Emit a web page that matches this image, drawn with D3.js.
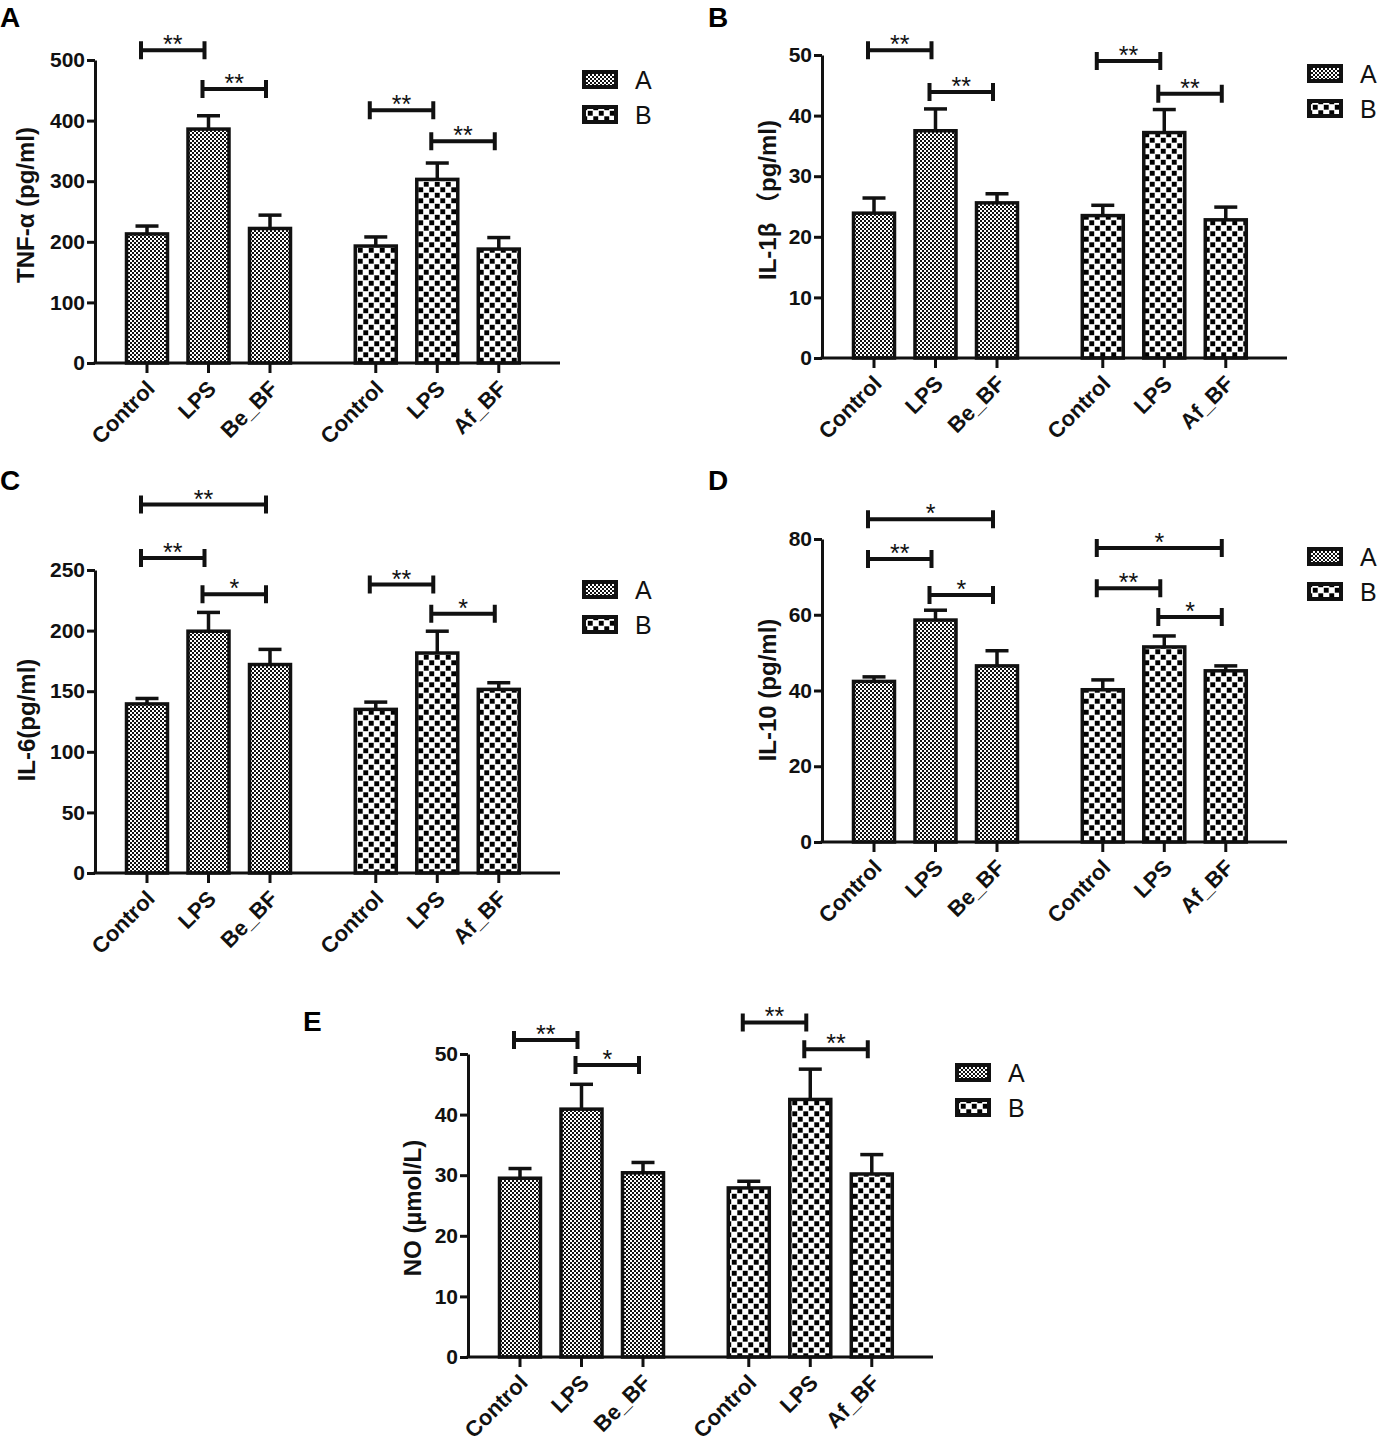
<!DOCTYPE html>
<html>
<head>
<meta charset="utf-8">
<style>
  body { margin: 0; background: #fff; }
  svg { display: block; background: #fff; }
  .num { font-family: "Liberation Sans Narrow", "Arial Narrow", Arial, sans-serif; font-weight: bold; font-size: 21px; }
  .cat { font-family: "Liberation Sans", Arial, sans-serif; font-weight: bold; font-size: 22px; }
  .ttl { font-family: "Liberation Sans", Arial, "Noto Sans CJK SC", sans-serif; font-weight: bold; font-size: 24px; }
  .star { font-family: "Liberation Sans", Arial, sans-serif; font-size: 25px; }
  .leg { font-family: "Liberation Sans", Arial, sans-serif; font-size: 25px; }
  .letter { font-family: "Liberation Sans", Arial, sans-serif; font-weight: bold; font-size: 28px; }
</style>
</head>
<body>
<script src="https://d3js.org/d3.v7.min.js"></script>
<script>
// categories and series
const categories = ["Control", "LPS", "Be_BF", "Control", "LPS", "Af_BF"];
const seriesNames = ["A", "B"];
const barSeries = [0, 0, 0, 1, 1, 1];

// A: TNF-α
const tnfMean = [213, 386, 222, 193, 303, 188];
const tnfSem = [13, 22, 22, 15, 27, 19];
const tnfTicks = [0, 100, 200, 300, 400, 500];
const tnfSig = [[0, 1, 516, "**"], [1, 2, 452, "**"], [3, 4, 417, "**"], [4, 5, 366, "**"]];

// B: IL-1β
const il1Mean = [23.9, 37.5, 25.6, 23.5, 37.2, 22.8];
const il1Sem = [2.5, 3.6, 1.5, 1.7, 3.8, 2.1];
const il1Ticks = [0, 10, 20, 30, 40, 50];
const il1Sig = [[0, 1, 50.8, "**"], [1, 2, 43.9, "**"], [3, 4, 49.0, "**"], [4, 5, 43.6, "**"]];

// C: IL-6
const il6Mean = [139.5, 199.5, 172, 135, 181.5, 151.5];
const il6Sem = [4.5, 15.5, 12.5, 6, 18, 5.5];
const il6Ticks = [0, 50, 100, 150, 200, 250];
const il6Sig = [[0, 2, 304, "**"], [0, 1, 260, "**"], [1, 2, 230, "*"], [3, 4, 238, "**"], [4, 5, 214, "*"]];

// D: IL-10
const il10Mean = [42.4, 58.6, 46.5, 40.2, 51.5, 45.2];
const il10Sem = [1.2, 2.6, 4.0, 2.6, 2.9, 1.3];
const il10Ticks = [0, 20, 40, 60, 80];
const il10Sig = [[0, 2, 85.2, "*"], [0, 1, 74.7, "**"], [1, 2, 65.2, "*"], [3, 5, 77.6, "*"], [3, 4, 67.0, "**"], [4, 5, 59.4, "*"]];

// E: NO
const noMean = [29.5, 40.9, 30.4, 27.9, 42.5, 30.2];
const noSem = [1.6, 4.1, 1.7, 1.1, 5.0, 3.2];
const noTicks = [0, 10, 20, 30, 40, 50];
const noSig = [[0, 1, 52.3, "**"], [1, 2, 48.2, "*"], [3, 4, 55.2, "**"], [4, 5, 50.8, "**"]];

const W = 1380, H = 1444;
const plotH = 303, axisLen = 465, barW = 41, slot = 61.5, groupGap = 0.72;

const panels = [
  { letter: "A", lx: 0, ly: 27, left: 95, bottom: 363, title: "TNF-α  (pg/ml)", tx: 34, ty: 205,
    legX: 582, legY: 70, mean: tnfMean, sem: tnfSem, ticks: tnfTicks, sig: tnfSig },
  { letter: "B", lx: 708, ly: 27, left: 822, bottom: 358, title: "IL-1β （pg/ml)", tx: 776, ty: 200,
    legX: 1307, legY: 64, mean: il1Mean, sem: il1Sem, ticks: il1Ticks, sig: il1Sig },
  { letter: "C", lx: 0, ly: 490, left: 95, bottom: 873, title: "IL-6(pg/ml)", tx: 35, ty: 720,
    legX: 582, legY: 580, mean: il6Mean, sem: il6Sem, ticks: il6Ticks, sig: il6Sig },
  { letter: "D", lx: 708, ly: 490, left: 822, bottom: 842, title: "IL-10 (pg/ml)", tx: 776, ty: 690,
    legX: 1307, legY: 547, mean: il10Mean, sem: il10Sem, ticks: il10Ticks, sig: il10Sig },
  { letter: "E", lx: 303, ly: 1031, left: 468, bottom: 1357, title: "NO (µmol/L)", tx: 421, ty: 1208,
    legX: 955, legY: 1063, mean: noMean, sem: noSem, ticks: noTicks, sig: noSig }
];

const svg = d3.select("body").append("svg")
  .attr("width", W).attr("height", H);

// fill patterns
const defs = svg.append("defs");
const pa = defs.append("pattern").attr("id", "patA")
  .attr("patternUnits", "userSpaceOnUse").attr("width", 4).attr("height", 4);
pa.append("rect").attr("width", 4).attr("height", 4).attr("fill", "#fff");
pa.append("rect").attr("width", 2).attr("height", 2).attr("fill", "#111");
pa.append("rect").attr("x", 2).attr("y", 2).attr("width", 2).attr("height", 2).attr("fill", "#111");

const pb = defs.append("pattern").attr("id", "patB")
  .attr("patternUnits", "userSpaceOnUse").attr("width", 11).attr("height", 11);
pb.append("rect").attr("width", 11).attr("height", 11).attr("fill", "#fff");
pb.append("rect").attr("x", 0.3).attr("y", 0.3).attr("width", 4.9).attr("height", 4.9).attr("fill", "#000");
pb.append("rect").attr("x", 5.8).attr("y", 5.8).attr("width", 4.9).attr("height", 4.9).attr("fill", "#000");

const fills = ["url(#patA)", "url(#patB)"];

panels.forEach(p => {
  const g = svg.append("g");
  const maxV = p.ticks[p.ticks.length - 1];
  const y = d3.scaleLinear().domain([0, maxV]).range([p.bottom, p.bottom - plotH]);
  const xs = d3.scaleLinear().domain([0, 1]).range([p.left + 52, p.left + 52 + slot]);
  const cx = i => xs(i + (i >= 3 ? groupGap : 0));

  // bars
  g.selectAll("rect.bar").data(p.mean).join("rect")
    .attr("class", "bar")
    .attr("x", (d, i) => cx(i) - barW / 2)
    .attr("y", d => y(d))
    .attr("width", barW)
    .attr("height", d => y(0) - y(d))
    .attr("fill", (d, i) => fills[barSeries[i]])
    .attr("stroke", "#111").attr("stroke-width", 3.5);

  // error bars
  const eb = g.selectAll("g.err").data(p.mean).join("g").attr("class", "err")
    .attr("stroke", "#111").attr("stroke-width", 3.5);
  eb.append("line")
    .attr("x1", (d, i) => cx(i)).attr("x2", (d, i) => cx(i))
    .attr("y1", d => y(d)).attr("y2", (d, i) => y(d + p.sem[i]));
  eb.append("line")
    .attr("x1", (d, i) => cx(i) - 11.5).attr("x2", (d, i) => cx(i) + 11.5)
    .attr("y1", (d, i) => y(d + p.sem[i])).attr("y2", (d, i) => y(d + p.sem[i]));

  // y axis
  const yAxis = d3.axisLeft(y).tickValues(p.ticks).tickSize(8).tickPadding(2).tickSizeOuter(0);
  const ya = g.append("g").attr("transform", `translate(${p.left},0)`).call(yAxis);
  ya.select(".domain").attr("stroke", "#111").attr("stroke-width", 3);
  ya.selectAll(".tick line").attr("stroke", "#111").attr("stroke-width", 3);
  ya.selectAll(".tick text").attr("class", "num").attr("fill", "#111").attr("font-size", null).attr("font-family", null);

  // x axis
  g.append("line")
    .attr("x1", p.left - 1.5).attr("x2", p.left + axisLen)
    .attr("y1", p.bottom).attr("y2", p.bottom)
    .attr("stroke", "#111").attr("stroke-width", 3);
  g.selectAll("line.xt").data(categories).join("line").attr("class", "xt")
    .attr("x1", (d, i) => cx(i)).attr("x2", (d, i) => cx(i))
    .attr("y1", p.bottom).attr("y2", p.bottom + 10)
    .attr("stroke", "#111").attr("stroke-width", 3);
  g.selectAll("text.cat").data(categories).join("text").attr("class", "cat")
    .attr("text-anchor", "end")
    .attr("transform", (d, i) => `translate(${cx(i) + 9},${p.bottom + 27}) rotate(-45)`)
    .attr("fill", "#111")
    .text(d => d);

  // significance brackets
  const sg = g.selectAll("g.sig").data(p.sig).join("g").attr("class", "sig");
  sg.append("path")
    .attr("d", d => {
      const x1 = cx(d[0]) - 6, x2 = cx(d[1]) - 4, yy = y(d[2]);
      return `M${x1},${yy - 9}V${yy + 9}M${x1},${yy}H${x2}M${x2},${yy - 9}V${yy + 9}`;
    })
    .attr("fill", "none").attr("stroke", "#111").attr("stroke-width", 4);
  sg.append("text").attr("class", "star")
    .attr("text-anchor", "middle")
    .attr("x", d => (cx(d[0]) + cx(d[1])) / 2 - 5)
    .attr("y", d => y(d[2]) + 3)
    .attr("fill", "#111")
    .text(d => d[3]);

  // y title
  g.append("text").attr("class", "ttl")
    .attr("text-anchor", "middle")
    .attr("transform", `translate(${p.tx},${p.ty}) rotate(-90)`)
    .attr("fill", "#111")
    .text(p.title);

  // legend
  const lg = g.selectAll("g.leg").data(seriesNames).join("g").attr("class", "legitem")
    .attr("transform", (d, i) => `translate(${p.legX},${p.legY + i * 35})`);
  lg.append("rect").attr("x", 2).attr("y", 2).attr("width", 32).attr("height", 15)
    .attr("fill", (d, i) => fills[i]).attr("stroke", "#111").attr("stroke-width", 4);
  lg.append("text").attr("class", "leg")
    .attr("x", 53).attr("y", 18.5)
    .attr("fill", "#111")
    .text(d => d);

  // panel letter
  g.append("text").attr("class", "letter")
    .attr("x", p.lx).attr("y", p.ly).attr("fill", "#000")
    .text(p.letter);
});
</script>
</body>
</html>
